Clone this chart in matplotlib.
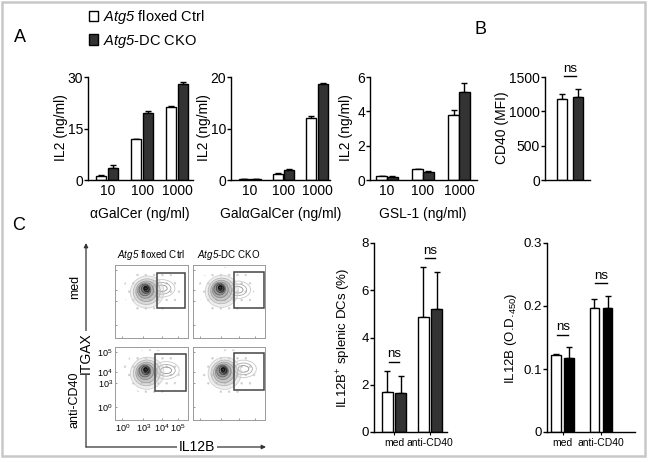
import matplotlib
matplotlib.use("Agg")
import matplotlib.pyplot as plt
from matplotlib.patches import Patch, Ellipse, Rectangle
import numpy as np

plt.rcParams['font.family'] = ['Liberation Sans', 'DejaVu Sans']
plt.rcParams['mathtext.fontset'] = 'custom'
plt.rcParams['mathtext.rm'] = 'Liberation Sans'
plt.rcParams['mathtext.it'] = 'Liberation Sans:italic'
plt.rcParams['mathtext.sf'] = 'Liberation Sans:italic'  # italic digits too (gene names)
plt.rcParams['hatch.linewidth'] = 0.5

# ---- data ----
doses = ['10', '100', '1000']
agc_ctrl = [1.2, 11.8, 21.3]
agc_ctrl_err = [0.2, 0.2, 0.2]
agc_cko = [3.6, 19.6, 27.9]
agc_cko_err = [0.7, 0.6, 0.6]

gagc_ctrl = [0.2, 1.2, 12.1]
gagc_ctrl_err = [0.05, 0.2, 0.4]
gagc_cko = [0.2, 1.9, 18.6]
gagc_cko_err = [0.05, 0.15, 0.2]

gsl_ctrl = [0.22, 0.62, 3.8]
gsl_ctrl_err = [0.02, 0.02, 0.28]
gsl_cko = [0.19, 0.48, 5.15]
gsl_cko_err = [0.02, 0.02, 0.5]

cd40_mfi = [1185, 1205]
cd40_err = [70, 125]

treatments = ['med', 'anti-CD40']
pct_ctrl = [1.68, 4.87]
pct_ctrl_err = [0.9, 2.1]
pct_cko = [1.64, 5.22]
pct_cko_err = [0.75, 1.55]

od_ctrl = [0.123, 0.197]
od_ctrl_err = [0.001, 0.014]
od_cko = [0.118, 0.197]
od_cko_err = [0.017, 0.019]

# flow plots (order: med ctrl, med cko, anti ctrl, anti cko), axes units 0..1
flow_centers = [(0.42, 0.65), (0.38, 0.66), (0.42, 0.66), (0.42, 0.66)]
flow_tails = [(0.64, 0.68), (0.62, 0.66), (0.70, 0.68), (0.70, 0.70)]
flow_gates = [(0.575, 0.41, 0.96, 0.89), (0.57, 0.41, 0.99, 0.90),
              (0.55, 0.40, 0.97, 0.90), (0.57, 0.41, 0.99, 0.92)]
main_w = [0.46, 0.37, 0.29, 0.22, 0.16, 0.11, 0.07, 0.04]
main_h = [0.44, 0.35, 0.28, 0.21, 0.16, 0.12, 0.08, 0.05]
main_dx = [0.02, 0.015, 0.01, 0.0, -0.01, 0.0, 0.01, 0.0]
main_dy = [-0.02, -0.015, -0.01, 0.0, 0.01, 0.02, 0.02, 0.03]
main_angle = [10, 15, 20, 25, 30, 35, 40, 45]
main_gray = ['#d0d0d0', '#b8b8b8', '#a0a0a0', '#888888', '#666666', '#444444', '#222222', '#000000']
tail_w = [0.36, 0.25, 0.15]
tail_h = [0.24, 0.16, 0.09]
tail_gray = ['#c8c8c8', '#a8a8a8', '#909090']
flow_ticks = [0.1, 0.39, 0.64, 0.86]
flow_yticks = [0.18, 0.51, 0.66, 0.93]
flow_ticklabels = [r'$10^{0}$', r'$10^{3}$', r'$10^{4}$', r'$10^{5}$']

W, H = 649, 462
DARK = '#333333'
fig = plt.figure(figsize=(6.49, 4.62), dpi=100)


def px_axes(x0, y0, x1, y1):
    ax = fig.add_axes([x0 / W, 1 - y1 / H, (x1 - x0) / W, (y1 - y0) / H])
    ax.set_facecolor('none')
    return ax


# overlay in pixel coordinates for labels, arrows and frame
ov = px_axes(0, 0, W, H)
ov.set_xlim(0, W)
ov.set_ylim(H, 0)
ov.axis('off')
ov.add_patch(Rectangle((1.5, 1.5), 643.5, 454, fill=False, ec='#c8c8c8', lw=1.8))


def style_bar_axes(ax, ymax, yticks, ylabels=None, fs=10):
    ax.set_ylim(0, ymax)
    ax.set_yticks(yticks)
    if ylabels is not None:
        ax.set_yticklabels(ylabels)
    for s in ['top', 'right']:
        ax.spines[s].set_visible(False)
    for s in ['left', 'bottom']:
        ax.spines[s].set_linewidth(1.0)
    ax.tick_params(axis='y', length=3, width=1, pad=0.5, labelsize=fs)


def grouped_bars(ax, ctrl, ctrl_err, cko, cko_err, width, offset, dark=DARK):
    x = np.arange(len(ctrl))
    ax.bar(x - offset, ctrl, width, color='white', edgecolor='black', lw=1, zorder=2)
    ax.bar(x + offset, cko, width, color=dark, edgecolor='black', lw=1, zorder=2)
    ax.errorbar(x - offset, ctrl, yerr=[np.zeros(len(ctrl)), ctrl_err], fmt='none',
                ecolor='black', elinewidth=1, capsize=2.5, capthick=1, zorder=1)
    ax.errorbar(x + offset, cko, yerr=[np.zeros(len(cko)), cko_err], fmt='none',
                ecolor='black', elinewidth=1, capsize=2.5, capthick=1, zorder=1)
    return x


def ns_mark(ax, x, y_text, y_line, half, fs=9.5):
    ax.text(x, y_text, 'ns', ha='center', va='center', fontsize=fs, clip_on=False)
    ax.plot([x - half, x + half], [y_line, y_line], color='black', lw=1, clip_on=False)


# ---- panel A ----
a1 = px_axes(88, 77, 193, 180)
x = grouped_bars(a1, agc_ctrl, agc_ctrl_err, agc_cko, agc_cko_err, 0.29, 0.17)
a1.set_xlim(-0.55, 2.45)
style_bar_axes(a1, 30, [0, 15, 30])

a2 = px_axes(231, 77, 330, 180)
grouped_bars(a2, gagc_ctrl, gagc_ctrl_err, gagc_cko, gagc_cko_err, 0.3, 0.165)
a2.set_xlim(-0.567, 2.388)
style_bar_axes(a2, 20, [0, 10, 20])

a3 = px_axes(370, 77, 477, 180)
grouped_bars(a3, gsl_ctrl, gsl_ctrl_err, gsl_cko, gsl_cko_err, 0.29, 0.15)
a3.set_xlim(-0.47, 2.5)
style_bar_axes(a3, 6, [0, 2, 4, 6])

for ax in (a1, a2, a3):
    ax.set_xticks(x)
    ax.set_xticklabels(doses)
    ax.tick_params(axis='x', length=0, labelsize=10, pad=3)

# ---- panel B ----
b = px_axes(545, 77, 590, 180)
b.bar([0], cd40_mfi[:1], 0.62, color='white', edgecolor='black', lw=1, zorder=2)
b.bar([1], cd40_mfi[1:], 0.62, color=DARK, edgecolor='black', lw=1, zorder=2)
b.errorbar([0, 1], cd40_mfi, yerr=[[0, 0], cd40_err], fmt='none', ecolor='black',
           elinewidth=1, capsize=2.5, capthick=1, zorder=1)
b.set_xlim(-1.06, 1.75)
b.set_xticks([])
style_bar_axes(b, 1500, [0, 500, 1000, 1500])
ns_mark(b, 0.5, 1610, 1515, 0.35)

# ---- panel C bars ----
c2 = px_axes(374, 243, 447, 432)
xc = grouped_bars(c2, pct_ctrl, pct_ctrl_err, pct_cko, pct_cko_err, 0.3, 0.19)
c2.set_xlim(-0.556, 1.472)
style_bar_axes(c2, 8, [0, 2, 4, 6, 8], fs=9.5)
ns_mark(c2, 0, 3.32, 2.98, 0.15)
ns_mark(c2, 1, 7.66, 7.36, 0.15)

c3 = px_axes(547, 243, 635, 432)
grouped_bars(c3, od_ctrl, od_ctrl_err, od_cko, od_cko_err, 0.26, 0.17, dark='black')
c3.set_xlim(-0.412, 1.889)
style_bar_axes(c3, 0.3, [0, 0.1, 0.2, 0.3], ['0', '0.1', '0.2', '0.3'], fs=9.5)
ns_mark(c3, 0, 0.166, 0.154, 0.145)
ns_mark(c3, 1, 0.247, 0.237, 0.145)

for ax in (c2, c3):
    ax.set_xticks(xc)
    ax.set_xticklabels(treatments)
    ax.tick_params(axis='x', length=2, width=0.8, labelsize=7.5, pad=2)

# ---- panel C flow plots ----
flow_boxes = [(115, 265, 188, 338), (193, 265, 265, 338),
              (115, 347, 188, 420), (193, 347, 265, 420)]
for i, box in enumerate(flow_boxes):
    ax = px_axes(*box)
    ax.set_xlim(0, 1)
    ax.set_ylim(0, 1)
    for s in ax.spines.values():
        s.set_color('#9a9a9a')
        s.set_linewidth(0.7)
    cx, cy = flow_centers[i]
    tx, ty = flow_tails[i]
    # sparse outlying events
    ax.add_patch(Ellipse((cx + 0.08, cy), 0.78, 0.62, fc='none', ec='#cfcfcf',
                         lw=0, hatch='..'))
    for w, h, g in zip(tail_w, tail_h, tail_gray):
        ax.add_patch(Ellipse((tx, ty), w, h, fc='none', ec=g, lw=0.6))
    for w, h, dx, dy, a, g in zip(main_w, main_h, main_dx, main_dy, main_angle, main_gray):
        ax.add_patch(Ellipse((cx + dx, cy + dy), w, h, angle=a, fc=g, alpha=0.35, ec='none'))
        ax.add_patch(Ellipse((cx + dx, cy + dy), w, h, angle=a, fc='none', ec=g, lw=0.6))
    gx0, gy0, gx1, gy1 = flow_gates[i]
    ax.add_patch(Rectangle((gx0, gy0), gx1 - gx0, gy1 - gy0, fill=False,
                           ec='#444444', lw=1.1, zorder=5))
    ax.set_xticks(flow_ticks)
    ax.set_yticks(flow_yticks)
    ax.tick_params(direction='in', length=1.5, width=0.6, color='#888888',
                   labelsize=6.5, pad=1.5)
    if i == 2:
        ax.set_xticklabels(flow_ticklabels)
        ax.set_yticklabels(flow_ticklabels)
    else:
        ax.set_xticklabels([])
        ax.set_yticklabels([])

# ---- text, arrows and legend ----
ov.text(20, 37, 'A', fontsize=13, ha='center', va='center')
ov.text(481, 30, 'B', fontsize=13, ha='center', va='center')
ov.text(19, 226, 'C', fontsize=13, ha='center', va='center')

ov.text(140, 214, 'αGalCer (ng/ml)', fontsize=10, ha='center', va='center')
ov.text(281, 214, 'GalαGalCer (ng/ml)', fontsize=10, ha='center', va='center')
ov.text(423, 214, 'GSL-1 (ng/ml)', fontsize=10, ha='center', va='center')

ov.text(61, 128, 'IL2 (ng/ml)', fontsize=10, rotation=90, ha='center', va='center')
ov.text(204, 128, 'IL2 (ng/ml)', fontsize=10, rotation=90, ha='center', va='center')
ov.text(346, 128, 'IL2 (ng/ml)', fontsize=10, rotation=90, ha='center', va='center')
ov.text(502, 128, 'CD40 (MFI)', fontsize=10, rotation=90, ha='center', va='center')
ov.text(344, 338, r'IL12B$^{+}$ splenic DCs (%)', fontsize=9.5, rotation=90,
        ha='center', va='center')
ov.text(511, 338, r'IL12B (O.D.$_{450}$)', fontsize=9.5, rotation=90,
        ha='center', va='center')

ov.text(151, 255, r'$\mathsf{Atg5}$ floxed Ctrl', fontsize=7, ha='center', va='center')
ov.text(229, 255, r'$\mathsf{Atg5}$-DC CKO', fontsize=7, ha='center', va='center')
ov.text(75, 287, 'med', fontsize=9, rotation=90, ha='center', va='center')
ov.text(75, 400, 'anti-CD40', fontsize=9, rotation=90, ha='center', va='center')

arrow = dict(arrowstyle='-|>', lw=0.9, color='#333333', mutation_scale=6,
             shrinkA=0, shrinkB=0)
ov.annotate('', xy=(86, 243), xytext=(86, 447), arrowprops=arrow)
ov.annotate('', xy=(266, 447), xytext=(86, 447), arrowprops=arrow)
ov.text(86, 353, 'ITGAX', fontsize=10, rotation=90, ha='center', va='center',
        bbox=dict(fc='white', ec='none', pad=1))
ov.text(197, 447, 'IL12B', fontsize=10, ha='center', va='center',
        bbox=dict(fc='white', ec='none', pad=1))

handles = [Patch(fc='white', ec='black', lw=1), Patch(fc=DARK, ec='black', lw=1)]
fig.legend(handles, [r'$\mathsf{Atg5}$ floxed Ctrl', r'$\mathsf{Atg5}$-DC CKO'],
           loc='upper left', bbox_to_anchor=(89 / W, 1 - 8 / H), frameon=False,
           fontsize=10.5, handlelength=0.65, handleheight=0.75, handletextpad=0.3,
           labelspacing=0.45, borderpad=0, borderaxespad=0)

fig.savefig('out.png', dpi=100)
